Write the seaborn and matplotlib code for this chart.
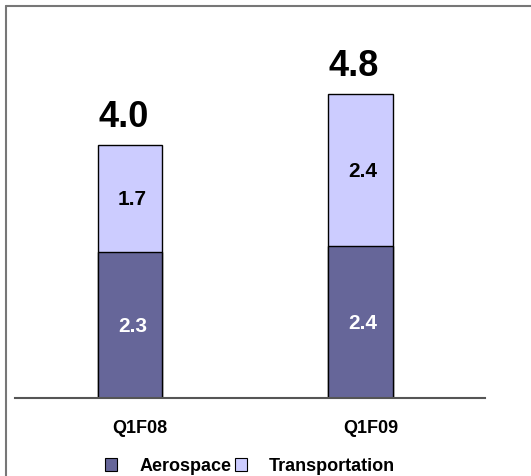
import matplotlib
matplotlib.use("Agg")
import matplotlib.pyplot as plt
import matplotlib.transforms as mtransforms
from matplotlib.lines import Line2D
from matplotlib.patches import Patch
import seaborn as sns

quarters = ["Q1F08", "Q1F09"]
aerospace = [2.3, 2.4]
transportation = [1.7, 2.4]
totals = [round(a + t, 1) for a, t in zip(aerospace, transportation)]

dark = "#666699"
light = "#CCCCFF"

sns.set_style("white")
plt.rcParams["font.family"] = ["Liberation Sans", "DejaVu Sans"]
plt.rcParams["font.weight"] = "bold"
plt.rcParams["text.color"] = "black"
plt.rcParams["xtick.color"] = "black"

fig = plt.figure(figsize=(5.31, 4.77), dpi=100)
ax = fig.add_axes([15 / 531, 78 / 477, 470 / 531, 348 / 477])

# stacked: draw totals in light, then aerospace on top in dark
sns.barplot(x=quarters, y=totals, color=light, width=0.28, saturation=1,
            edgecolor="black", linewidth=1, ax=ax)
sns.barplot(x=quarters, y=aerospace, color=dark, width=0.28, saturation=1,
            edgecolor="black", linewidth=1, ax=ax)

ax.set_xlim(-0.5, 1.54)
ax.set_ylim(0, 5.5)
ax.set_yticks([])
for side in ["left", "right", "top"]:
    ax.spines[side].set_visible(False)
ax.spines["bottom"].set_color("#555555")
ax.spines["bottom"].set_linewidth(1.5)
ax.tick_params(axis="x", length=0, pad=15, labelsize=13, labelcolor="black")
shift = mtransforms.ScaledTranslation(10 / 100, 0, fig.dpi_scale_trans)
for lab in ax.get_xticklabels():
    lab.set_fontweight("bold")
    lab.set_transform(lab.get_transform() + shift)

for i in range(len(quarters)):
    a, t, tot = aerospace[i], transportation[i], totals[i]
    ax.text(i + 0.01, a / 2, f"{a:.1f}", ha="center", va="center",
            color="white", fontsize=15, fontweight="bold")
    ax.text(i + 0.01, a + t / 2, f"{t:.1f}", ha="center", va="center",
            color="black", fontsize=15, fontweight="bold")
    ax.annotate(f"{tot:.1f}", (i - 0.03, tot), xytext=(0, 8),
                textcoords="offset points", ha="center", va="bottom",
                fontsize=26, fontweight="bold", color="black")

handles = [Patch(facecolor=dark, edgecolor="black", linewidth=0.8),
           Patch(facecolor=light, edgecolor="black", linewidth=0.8)]
leg = fig.legend(handles, ["Aerospace", "Transportation"], loc="center",
                 bbox_to_anchor=(250 / 531, 1 - 467 / 477), ncol=2,
                 frameon=False, handlelength=0.7, handleheight=0.7,
                 handletextpad=1.2, columnspacing=0.2,
                 prop={"size": 13, "weight": "bold"})
for txt in leg.get_texts():
    txt.set_color("black")

# frame on left and top, like the slide
fig.add_artist(Line2D([5.5 / 531, 5.5 / 531], [0, 1 - 6.5 / 477],
                      color="#777777", linewidth=1.5))
fig.add_artist(Line2D([5.5 / 531, 1], [1 - 6.5 / 477, 1 - 6.5 / 477],
                      color="#777777", linewidth=1.5))

fig.savefig("out.png", dpi=100)
